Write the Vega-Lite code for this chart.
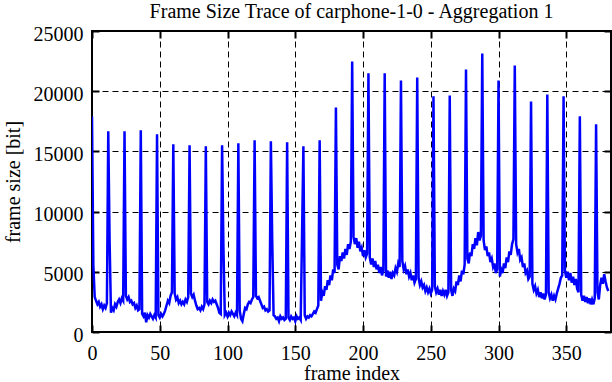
{
"$schema": "https://vega.github.io/schema/vega-lite/v6.json",
"width": 519, "height": 301,
"autosize": {"type": "none"},
"padding": {"left": 92, "top": 31, "right": 1, "bottom": 50},
"config": {
  "view": {"stroke": "black", "strokeWidth": 2},
  "font": "Liberation Serif",
  "axis": {"labelFont": "Liberation Serif", "titleFont": "Liberation Serif", "labelFontSize": 20, "titleFontSize": 20, "titleFontWeight": "normal", "labelColor": "black", "titleColor": "black", "domain": false, "tickColor": "black", "tickWidth": 2, "tickSize": -7, "gridColor": "black", "gridDash": [6, 4], "gridWidth": 1, "gridOpacity": 1, "labelFlush": false}
},
"title": {"text": "Frame Size Trace of carphone-1-0 - Aggregation 1", "font": "Liberation Serif", "fontSize": 20, "fontWeight": "normal", "color": "black", "anchor": "middle", "baseline": "alphabetic", "frame": "group", "offset": 14, "dy": 28},
"data": {"values": [
{"frame":0,"size":17900},{"frame":1,"size":5500},{"frame":2,"size":2900},{"frame":3,"size":2600},{"frame":4,"size":2300},{"frame":5,"size":2500},{"frame":6,"size":2100},{"frame":7,"size":2300},{"frame":8,"size":1900},{"frame":9,"size":2200},{"frame":10,"size":2000},{"frame":11,"size":2400},
{"frame":12,"size":16670},{"frame":13,"size":7500},{"frame":14,"size":1600},{"frame":15,"size":2000},{"frame":16,"size":1800},{"frame":17,"size":2300},{"frame":18,"size":2100},{"frame":19,"size":2500},{"frame":20,"size":2700},{"frame":21,"size":2400},{"frame":22,"size":2800},{"frame":23,"size":2600},
{"frame":24,"size":16670},{"frame":25,"size":3000},{"frame":26,"size":2700},{"frame":27,"size":2900},{"frame":28,"size":2500},{"frame":29,"size":2600},{"frame":30,"size":2300},{"frame":31,"size":2400},{"frame":32,"size":2000},{"frame":33,"size":2200},{"frame":34,"size":1800},{"frame":35,"size":1900},
{"frame":36,"size":16750},{"frame":37,"size":1500},{"frame":38,"size":1300},{"frame":39,"size":1600},{"frame":40,"size":800},{"frame":41,"size":1400},{"frame":42,"size":1200},{"frame":43,"size":1500},{"frame":44,"size":1300},{"frame":45,"size":1100},{"frame":46,"size":1400},{"frame":47,"size":1200},
{"frame":48,"size":16420},{"frame":49,"size":1400},{"frame":50,"size":1200},{"frame":51,"size":1500},{"frame":52,"size":1300},{"frame":53,"size":1500},{"frame":54,"size":1800},{"frame":55,"size":2200},{"frame":56,"size":2600},{"frame":57,"size":2400},{"frame":58,"size":3000},{"frame":59,"size":3300},
{"frame":60,"size":15590},{"frame":61,"size":3200},{"frame":62,"size":2700},{"frame":63,"size":2900},{"frame":64,"size":2400},{"frame":65,"size":2600},{"frame":66,"size":2300},{"frame":67,"size":2500},{"frame":68,"size":2300},{"frame":69,"size":2700},{"frame":70,"size":2500},{"frame":71,"size":2900},
{"frame":72,"size":15500},{"frame":73,"size":3200},{"frame":74,"size":2900},{"frame":75,"size":3100},{"frame":76,"size":2600},{"frame":77,"size":2200},{"frame":78,"size":1900},{"frame":79,"size":2000},{"frame":80,"size":1800},{"frame":81,"size":2100},{"frame":82,"size":1900},{"frame":83,"size":2300},
{"frame":84,"size":15420},{"frame":85,"size":2500},{"frame":86,"size":2300},{"frame":87,"size":2600},{"frame":88,"size":2400},{"frame":89,"size":2700},{"frame":90,"size":2500},{"frame":91,"size":2600},{"frame":92,"size":2300},{"frame":93,"size":2000},{"frame":94,"size":1600},{"frame":95,"size":1500},
{"frame":96,"size":15500},{"frame":97,"size":7000},{"frame":98,"size":1400},{"frame":99,"size":1600},{"frame":100,"size":1300},{"frame":101,"size":1600},{"frame":102,"size":1400},{"frame":103,"size":1700},{"frame":104,"size":1500},{"frame":105,"size":1300},{"frame":106,"size":1600},{"frame":107,"size":1400},
{"frame":108,"size":15670},{"frame":109,"size":1800},{"frame":110,"size":1100},{"frame":111,"size":900},{"frame":112,"size":1500},{"frame":113,"size":2000},{"frame":114,"size":1900},{"frame":115,"size":2300},{"frame":116,"size":2500},{"frame":117,"size":2400},{"frame":118,"size":2700},{"frame":119,"size":2900},
{"frame":120,"size":15920},{"frame":121,"size":3000},{"frame":122,"size":2800},{"frame":123,"size":2900},{"frame":124,"size":2600},{"frame":125,"size":2300},{"frame":126,"size":2000},{"frame":127,"size":2100},{"frame":128,"size":1800},{"frame":129,"size":1900},{"frame":130,"size":1700},{"frame":131,"size":1800},
{"frame":132,"size":15840},{"frame":133,"size":7600},{"frame":134,"size":1400},{"frame":135,"size":1300},{"frame":136,"size":1100},{"frame":137,"size":1200},{"frame":138,"size":900},{"frame":139,"size":1300},{"frame":140,"size":1100},{"frame":141,"size":1200},{"frame":142,"size":1000},{"frame":143,"size":1100},
{"frame":144,"size":15750},{"frame":145,"size":1200},{"frame":146,"size":1000},{"frame":147,"size":1300},{"frame":148,"size":1100},{"frame":149,"size":1200},{"frame":150,"size":900},{"frame":151,"size":1300},{"frame":152,"size":1100},{"frame":153,"size":1200},{"frame":154,"size":1000},{"frame":155,"size":8000},
{"frame":156,"size":15420},{"frame":157,"size":1400},{"frame":158,"size":1100},{"frame":159,"size":1300},{"frame":160,"size":1200},{"frame":161,"size":1400},{"frame":162,"size":1300},{"frame":163,"size":1500},{"frame":164,"size":1700},{"frame":165,"size":1600},{"frame":166,"size":1900},{"frame":167,"size":2200},
{"frame":168,"size":15920},{"frame":169,"size":2600},{"frame":170,"size":3300},{"frame":171,"size":3000},{"frame":172,"size":3800},{"frame":173,"size":3500},{"frame":174,"size":4300},{"frame":175,"size":3900},{"frame":176,"size":4700},{"frame":177,"size":4300},{"frame":178,"size":5200},{"frame":179,"size":4900},
{"frame":180,"size":18650},{"frame":181,"size":5600},{"frame":182,"size":5200},{"frame":183,"size":6300},{"frame":184,"size":5900},{"frame":185,"size":6600},{"frame":186,"size":6100},{"frame":187,"size":6900},{"frame":188,"size":6400},{"frame":189,"size":7300},{"frame":190,"size":6900},{"frame":191,"size":7500},
{"frame":192,"size":22470},{"frame":193,"size":7900},{"frame":194,"size":7300},{"frame":195,"size":7800},{"frame":196,"size":7000},{"frame":197,"size":7500},{"frame":198,"size":6700},{"frame":199,"size":7000},{"frame":200,"size":6300},{"frame":201,"size":6800},{"frame":202,"size":6200},{"frame":203,"size":6500},
{"frame":204,"size":21500},{"frame":205,"size":6200},{"frame":206,"size":5600},{"frame":207,"size":6100},{"frame":208,"size":5400},{"frame":209,"size":5900},{"frame":210,"size":5200},{"frame":211,"size":5600},{"frame":212,"size":4900},{"frame":213,"size":5400},{"frame":214,"size":4700},{"frame":215,"size":5100},
{"frame":216,"size":21500},{"frame":217,"size":4600},{"frame":218,"size":5100},{"frame":219,"size":4500},{"frame":220,"size":5000},{"frame":221,"size":4400},{"frame":222,"size":4900},{"frame":223,"size":4700},{"frame":224,"size":5300},{"frame":225,"size":5000},{"frame":226,"size":5700},{"frame":227,"size":5400},
{"frame":228,"size":20890},{"frame":229,"size":5900},{"frame":230,"size":5200},{"frame":231,"size":5500},{"frame":232,"size":4800},{"frame":233,"size":5200},{"frame":234,"size":4600},{"frame":235,"size":4900},{"frame":236,"size":4300},{"frame":237,"size":4700},{"frame":238,"size":4100},{"frame":239,"size":4400},
{"frame":240,"size":21140},{"frame":241,"size":4500},{"frame":242,"size":3900},{"frame":243,"size":4200},{"frame":244,"size":3700},{"frame":245,"size":3900},{"frame":246,"size":3400},{"frame":247,"size":3700},{"frame":248,"size":3300},{"frame":249,"size":3600},{"frame":250,"size":3200},{"frame":251,"size":3500},
{"frame":252,"size":19570},{"frame":253,"size":3800},{"frame":254,"size":3300},{"frame":255,"size":3600},{"frame":256,"size":3100},{"frame":257,"size":3500},{"frame":258,"size":3000},{"frame":259,"size":3400},{"frame":260,"size":3100},{"frame":261,"size":3500},{"frame":262,"size":3000},{"frame":263,"size":3300},
{"frame":264,"size":19650},{"frame":265,"size":3500},{"frame":266,"size":3000},{"frame":267,"size":3600},{"frame":268,"size":3400},{"frame":269,"size":4200},{"frame":270,"size":3900},{"frame":271,"size":4700},{"frame":272,"size":4200},{"frame":273,"size":5100},{"frame":274,"size":4800},{"frame":275,"size":5600},
{"frame":276,"size":21800},{"frame":277,"size":6100},{"frame":278,"size":5700},{"frame":279,"size":6600},{"frame":280,"size":6300},{"frame":281,"size":7300},{"frame":282,"size":6900},{"frame":283,"size":7800},{"frame":284,"size":7200},{"frame":285,"size":8300},{"frame":286,"size":7600},{"frame":287,"size":8000},
{"frame":288,"size":23130},{"frame":289,"size":7600},{"frame":290,"size":6800},{"frame":291,"size":7100},{"frame":292,"size":6300},{"frame":293,"size":6600},{"frame":294,"size":5800},{"frame":295,"size":6100},{"frame":296,"size":5400},{"frame":297,"size":5700},{"frame":298,"size":4900},{"frame":299,"size":5200},
{"frame":300,"size":20890},{"frame":301,"size":4600},{"frame":302,"size":5200},{"frame":303,"size":4900},{"frame":304,"size":5700},{"frame":305,"size":5300},{"frame":306,"size":6200},{"frame":307,"size":5800},{"frame":308,"size":6700},{"frame":309,"size":6400},{"frame":310,"size":7300},{"frame":311,"size":7700},
{"frame":312,"size":22140},{"frame":313,"size":7300},{"frame":314,"size":6600},{"frame":315,"size":6900},{"frame":316,"size":6000},{"frame":317,"size":6200},{"frame":318,"size":5400},{"frame":319,"size":5700},{"frame":320,"size":4900},{"frame":321,"size":5100},{"frame":322,"size":4400},{"frame":323,"size":4600},
{"frame":324,"size":19150},{"frame":325,"size":4000},{"frame":326,"size":3500},{"frame":327,"size":3800},{"frame":328,"size":3200},{"frame":329,"size":3500},{"frame":330,"size":2900},{"frame":331,"size":3300},{"frame":332,"size":2800},{"frame":333,"size":3200},{"frame":334,"size":2700},{"frame":335,"size":3100},
{"frame":336,"size":19730},{"frame":337,"size":3300},{"frame":338,"size":2800},{"frame":339,"size":3100},{"frame":340,"size":2600},{"frame":341,"size":3000},{"frame":342,"size":2700},{"frame":343,"size":3200},{"frame":344,"size":3600},{"frame":345,"size":4000},{"frame":346,"size":4500},{"frame":347,"size":4700},
{"frame":348,"size":19570},{"frame":349,"size":5100},{"frame":350,"size":4500},{"frame":351,"size":5000},{"frame":352,"size":4300},{"frame":353,"size":4900},{"frame":354,"size":4100},{"frame":355,"size":4600},{"frame":356,"size":3900},{"frame":357,"size":4400},{"frame":358,"size":3600},{"frame":359,"size":3300},
{"frame":360,"size":17910},{"frame":361,"size":3100},{"frame":362,"size":2600},{"frame":363,"size":3000},{"frame":364,"size":2500},{"frame":365,"size":2900},{"frame":366,"size":2400},{"frame":367,"size":2800},{"frame":368,"size":2300},{"frame":369,"size":2700},{"frame":370,"size":2300},{"frame":371,"size":2800},
{"frame":372,"size":17250},{"frame":373,"size":3300},{"frame":374,"size":2700},{"frame":375,"size":3900},{"frame":376,"size":4500},{"frame":377,"size":4000},{"frame":378,"size":4800},{"frame":379,"size":4200},{"frame":380,"size":3700},{"frame":381,"size":3400}
]},
"layer": [
  {
    "mark": {"type": "line", "color": "#0000ff", "strokeWidth": 2.5, "clip": true},
    "encoding": {
      "x": {"field": "frame", "type": "quantitative", "scale": {"domain": [0, 383], "nice": false, "zero": false},
            "axis": {"orient": "bottom", "values": [0, 50, 100, 150, 200, 250, 300, 350], "title": "frame index", "labelPadding": 18, "titlePadding": 0, "grid": true}},
      "y": {"field": "size", "type": "quantitative", "scale": {"domain": [0, 25000], "nice": false},
            "axis": {"orient": "left", "values": [0, 5000, 10000, 15000, 20000, 25000], "format": "d", "title": "frame size [bit]", "labelPadding": 16, "labelOffset": 3, "titlePadding": 10, "grid": true}}
    }
  },
  {
    "mark": {"type": "line", "opacity": 0},
    "encoding": {
      "x": {"field": "frame", "type": "quantitative", "axis": {"orient": "top", "values": [0, 50, 100, 150, 200, 250, 300, 350], "labels": false, "title": null, "grid": false}},
      "y": {"field": "size", "type": "quantitative", "axis": {"orient": "right", "values": [0, 5000, 10000, 15000, 20000, 25000], "labels": false, "title": null, "grid": false}}
    }
  }
],
"resolve": {"axis": {"x": "independent", "y": "independent"}}
}
